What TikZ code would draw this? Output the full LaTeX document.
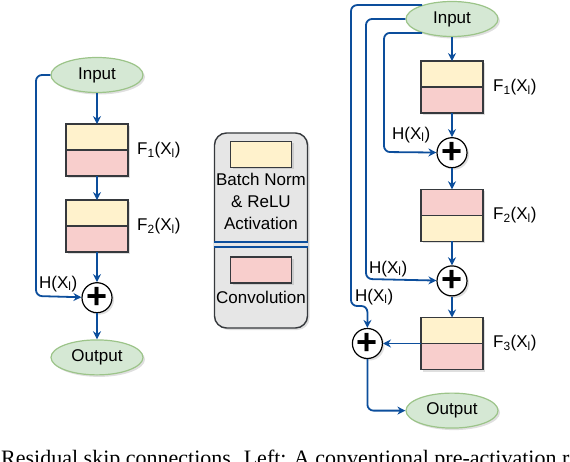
\documentclass[tikz,border=0pt]{standalone}
\usepackage{fontspec}
\setmainfont{Liberation Sans}
\newfontfamily\captionfont{Liberation Serif}
\usetikzlibrary{
	arrows.meta,
	positioning,
	shapes.geometric,
	shadows
}

\definecolor{skipblue}{RGB}{12,78,156}
\definecolor{bnyellow}{HTML}{FFF2CC}
\definecolor{convpink}{HTML}{F8CECC}
\definecolor{iogreen}{HTML}{D5E8D4}
\definecolor{ioedge}{HTML}{9CC489}
\definecolor{boxedge}{HTML}{36393D}
\definecolor{legfill}{HTML}{E6E6E6}

\begin{document}
\begin{tikzpicture}[x=1pt, y=-1pt, node distance=24pt,
        font=\fontsize{17}{22}\selectfont,
        softshadow/.style={drop shadow={opacity=0.25, shadow xshift=2pt, shadow yshift=-2pt}},
        io/.style={ellipse, draw=ioedge, fill=iogreen, line width=1.2pt, minimum width=92pt, minimum height=35pt, inner sep=0pt, softshadow},
        bn/.style={rectangle, draw=boxedge, fill=bnyellow, line width=1.4pt, minimum width=62pt, minimum height=26pt, inner sep=0pt, outer sep=0pt, softshadow},
        conv/.style={bn, fill=convpink},
        addop/.style={circle, draw, fill=white, line width=1.2pt, minimum size=30pt, inner sep=0pt, softshadow, font=\fontsize{36}{36}\selectfont\bfseries},
        flow/.style={skipblue, line width=1.8pt, -{Stealth[length=8pt, width=8pt]}},
        skip/.style={flow, rounded corners=6pt},
        lbl/.style={inner sep=0pt}]
        \useasboundingbox (0,0) rectangle (570,462);

        % left: conventional block
        \node[io] (inL) at (97,75) {Input};
        \node[bn, below=31pt of inL] (f1La) {};
        \node[conv, below=0pt of f1La] (f1Lb) {};
        \node[bn, below=24pt of f1Lb] (f2La) {};
        \node[conv, below=0pt of f2La] (f2Lb) {};
        \node[addop, below=30pt of f2Lb] (addL) {+};
        \node[io, below=26pt of addL] (outL) {Output};
        \node[lbl, right=9pt of f1La.south east] (fL1) {F\textsubscript{1}(X\textsubscript{l})};
        \node[lbl, right=9pt of f2La.south east] (fL2) {F\textsubscript{2}(X\textsubscript{l})};
        \coordinate (kL) at (36,296);
        \node[lbl, above right=4pt and 3pt of kL] (hL) {H(X\textsubscript{l})};

        \draw[flow] (inL) -- (f1La);
        \draw[flow] (f1Lb) -- (f2La);
        \draw[flow] (f2Lb) -- (addL);
        \draw[flow] (addL) -- (outL);
        \draw[skip] (inL.west) -| (kL) -- (addL);

        % middle: legend
        \node[draw=boxedge, fill=legfill, rounded corners=12pt, line width=1.4pt, minimum width=93pt, minimum height=195pt, softshadow] (leg) at (261,230.5) {};
        \node[bn, minimum width=61pt, below=9pt of leg.north] (legBn) {};
        \node[lbl, align=center, below=6pt of legBn] (legBnTxt) {Batch Norm\\\& ReLU\\Activation};
        \coordinate (legSep) at (261,244.5);
        \draw[skipblue, line width=1.8pt, double=legfill, double distance=3.2pt] (leg.west |- legSep) -- (leg.east |- legSep);
        \node[conv, minimum width=61pt, below=12.5pt of legSep] (legConv) {};
        \node[lbl, below=8pt of legConv] (legConvTxt) {Convolution};

        % right: proposed block
        \node[io] (inR) at (452,19) {Input};
        \node[bn, below=24pt of inR] (f1Ra) {};
        \node[conv, below=0pt of f1Ra] (f1Rb) {};
        \node[addop, below=24pt of f1Rb] (add1) {+};
        \node[conv, below=21pt of add1] (f2Ra) {};
        \node[bn, below=0pt of f2Ra] (f2Rb) {};
        \node[addop, below=24pt of f2Rb] (add2) {+};
        \node[bn, below=21pt of add2] (f3Ra) {};
        \node[conv, below=0pt of f3Ra] (f3Rb) {};
        \node[addop, left=38pt of f3Ra.south west] (add3) {+};
        \node[io, below=23pt of f3Rb] (outR) {Output};
        \node[lbl, right=10pt of f1Ra.south east] (fR1) {F\textsubscript{1}(X\textsubscript{l})};
        \node[lbl, right=10pt of f2Ra.south east] (fR2) {F\textsubscript{2}(X\textsubscript{l})};
        \node[lbl, right=10pt of f3Ra.south east] (fR3) {F\textsubscript{3}(X\textsubscript{l})};
        \coordinate (kA) at (351,306);
        \coordinate (kB) at (366,279);
        \coordinate (kC) at (384,152);
        \node[lbl, above right=9pt and 8pt of kC] (hR1) {H(X\textsubscript{l})};
        \node[lbl, above right=2pt and 3pt of kB] (hR2) {H(X\textsubscript{l})};
        \node[lbl, above right=1pt and 4pt of kA] (hR3) {H(X\textsubscript{l})};

        \draw[flow] (inR) -- (f1Ra);
        \draw[flow] (f1Rb) -- (add1);
        \draw[flow] (add1) -- (f2Ra);
        \draw[flow] (f2Rb) -- (add2);
        \draw[flow] (add2) -- (f3Ra);
        \draw[flow] (f3Ra.south west) -- (add3);
        \draw[skip] (add3) |- (outR);
        \draw[skip] (inR.155) -| (kA) -| (add3);
        \draw[skip] (inR.west) -| (kB) -- (add2);
        \draw[skip] (inR.205) -| (kC) -- (add1);

        % caption, cut by the page edge
        \node[anchor=base west, inner sep=0pt, font=\captionfont\fontsize{22}{26}\selectfont] (caption) at (1,465) {Residual skip connections. Left: A conventional pre-activation r};
\end{tikzpicture}
\end{document}
